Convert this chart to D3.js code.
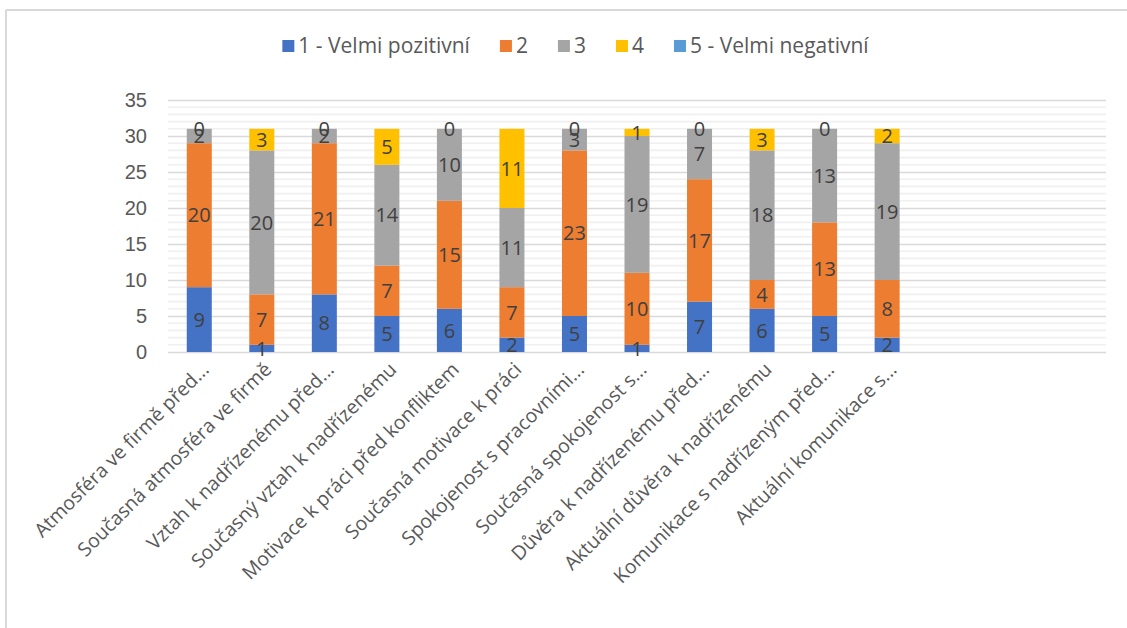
<!DOCTYPE html>
<html>
<head>
<meta charset="utf-8">
<script src="https://cdn.jsdelivr.net/npm/d3@7"></script>
<style>
  html, body { margin: 0; padding: 0; background: #ffffff; }
  svg { display: block; font-family: "Open Sans", "Noto Sans", sans-serif; }
</style>
</head>
<body>
<svg id="chart" width="1127" height="628"></svg>
<script>
// Survey answers per question, stacked by rating (1 = very positive ... 5 = very negative)
const categories = [
  "Atmosféra ve firmě před...",
  "Současná atmosféra ve firmě",
  "Vztah k nadřízenému před...",
  "Současný vztah k nadřízenému",
  "Motivace k práci před konfliktem",
  "Současná motivace k práci",
  "Spokojenost s pracovními...",
  "Současná spokojenost s...",
  "Důvěra k nadřízenému před...",
  "Aktuální důvěra k nadřízenému",
  "Komunikace s nadřízeným před...",
  "Aktuální komunikace s..."
];

const seriesNames = ["1 - Velmi pozitivní", "2", "3", "4", "5 - Velmi negativní"];

const rating1 = [9, 1, 8, 5, 6, 2, 5, 1, 7, 6, 5, 2];
const rating2 = [20, 7, 21, 7, 15, 7, 23, 10, 17, 4, 13, 8];
const rating3 = [2, 20, 2, 14, 10, 11, 3, 19, 7, 18, 13, 19];
const rating4 = [0, 3, 0, 5, 0, 11, 0, 1, 0, 3, 0, 2];
const rating5 = [null, null, null, null, null, null, null, null, null, null, null, null];

const yTicks = [0, 5, 10, 15, 20, 25, 30, 35];

const colors = ["#4472C4", "#ED7D31", "#A5A5A5", "#FFC000", "#5B9BD5"];

// The category axis reserves room for 15 slots; only the first 12 hold data.
const slotCount = 15;

const svg = d3.select("#chart");
const W = 1127, H = 628;

// Outer chart frame (top and left edges)
svg.append("line").attr("x1", 6).attr("x2", W).attr("y1", 10).attr("y2", 10)
  .attr("stroke", "#d9d9d9").attr("stroke-width", 2);
svg.append("line").attr("x1", 6).attr("x2", 6).attr("y1", 10).attr("y2", H)
  .attr("stroke", "#d9d9d9").attr("stroke-width", 2);

const plot = { left: 168, right: 1106, top: 100, bottom: 352 };

const x = d3.scaleBand()
  .domain(d3.range(slotCount))
  .range([plot.left, plot.right])
  .paddingInner(0.6)
  .paddingOuter(0.3);

const y = d3.scaleLinear().domain([0, 35]).range([plot.bottom, plot.top]);

// Minor gridlines every unit
const minor = d3.range(0, 36).filter(v => v % 5 !== 0);
svg.append("g").selectAll("line").data(minor).join("line")
  .attr("x1", plot.left).attr("x2", plot.right)
  .attr("y1", d => y(d)).attr("y2", d => y(d))
  .attr("stroke", "#f0f0f0").attr("stroke-width", 1.6);

// Major gridlines and value axis
const yAxis = d3.axisLeft(y).tickValues(yTicks).tickSize(-(plot.right - plot.left)).tickPadding(21);
const gy = svg.append("g").attr("transform", `translate(${plot.left},0)`).call(yAxis);
gy.select(".domain").remove();
gy.selectAll(".tick line").attr("stroke", "#d9d9d9").attr("stroke-width", 1.6);
gy.selectAll(".tick text").attr("fill", "#595959").attr("font-size", 20).attr("dy", "0.34em");

// Stack the series
const rows = categories.map((c, i) => ({
  i,
  s0: rating1[i], s1: rating2[i], s2: rating3[i], s3: rating4[i], s4: rating5[i]
}));
const keys = ["s0", "s1", "s2", "s3", "s4"];
const stacked = d3.stack().keys(keys).value((d, k) => d[k] == null ? 0 : d[k])(rows);

const layers = svg.append("g").selectAll("g").data(stacked).join("g")
  .attr("fill", (d, i) => colors[i]);

layers.selectAll("rect").data(d => d).join("rect")
  .attr("x", d => x(d.data.i))
  .attr("width", x.bandwidth())
  .attr("y", d => y(d[1]))
  .attr("height", d => y(d[0]) - y(d[1]));

// Value labels centred in each segment
const labels = svg.append("g");
stacked.forEach((layer, si) => {
  layer.forEach(d => {
    const v = d.data[layer.key];
    if (v == null) return;
    labels.append("text")
      .attr("x", x(d.data.i) + x.bandwidth() / 2)
      .attr("y", y((d[0] + d[1]) / 2))
      .attr("dy", "0.36em")
      .attr("text-anchor", "middle")
      .attr("fill", "#404040")
      .attr("font-size", 20)
      .text(v);
  });
});

// Category labels, rotated
svg.append("g").selectAll("text").data(categories).join("text")
  .attr("transform", (d, i) => `translate(${x(i) + x.bandwidth() / 2 + 6},${plot.bottom + 14}) rotate(-45)`)
  .attr("text-anchor", "end")
  .attr("dy", "0.35em")
  .attr("fill", "#595959")
  .attr("font-size", 19.5)
  .text(d => d);

// Legend
const legendGap = 30;
const legend = svg.append("g").attr("font-size", 21);
let cx = 0;
seriesNames.forEach((name, i) => {
  const g = legend.append("g").attr("transform", `translate(${cx},0)`);
  g.append("rect").attr("x", 0).attr("y", -6).attr("width", 12).attr("height", 12).attr("fill", colors[i]);
  const t = g.append("text").attr("x", 16).attr("y", 0).attr("dy", "0.35em").attr("fill", "#595959").text(name);
  const w = 16 + t.node().getComputedTextLength();
  cx += w + legendGap;
});
const legendW = cx - legendGap;
legend.attr("transform", `translate(${(283 + 868) / 2 - legendW / 2},46)`);
</script>
</body>
</html>
